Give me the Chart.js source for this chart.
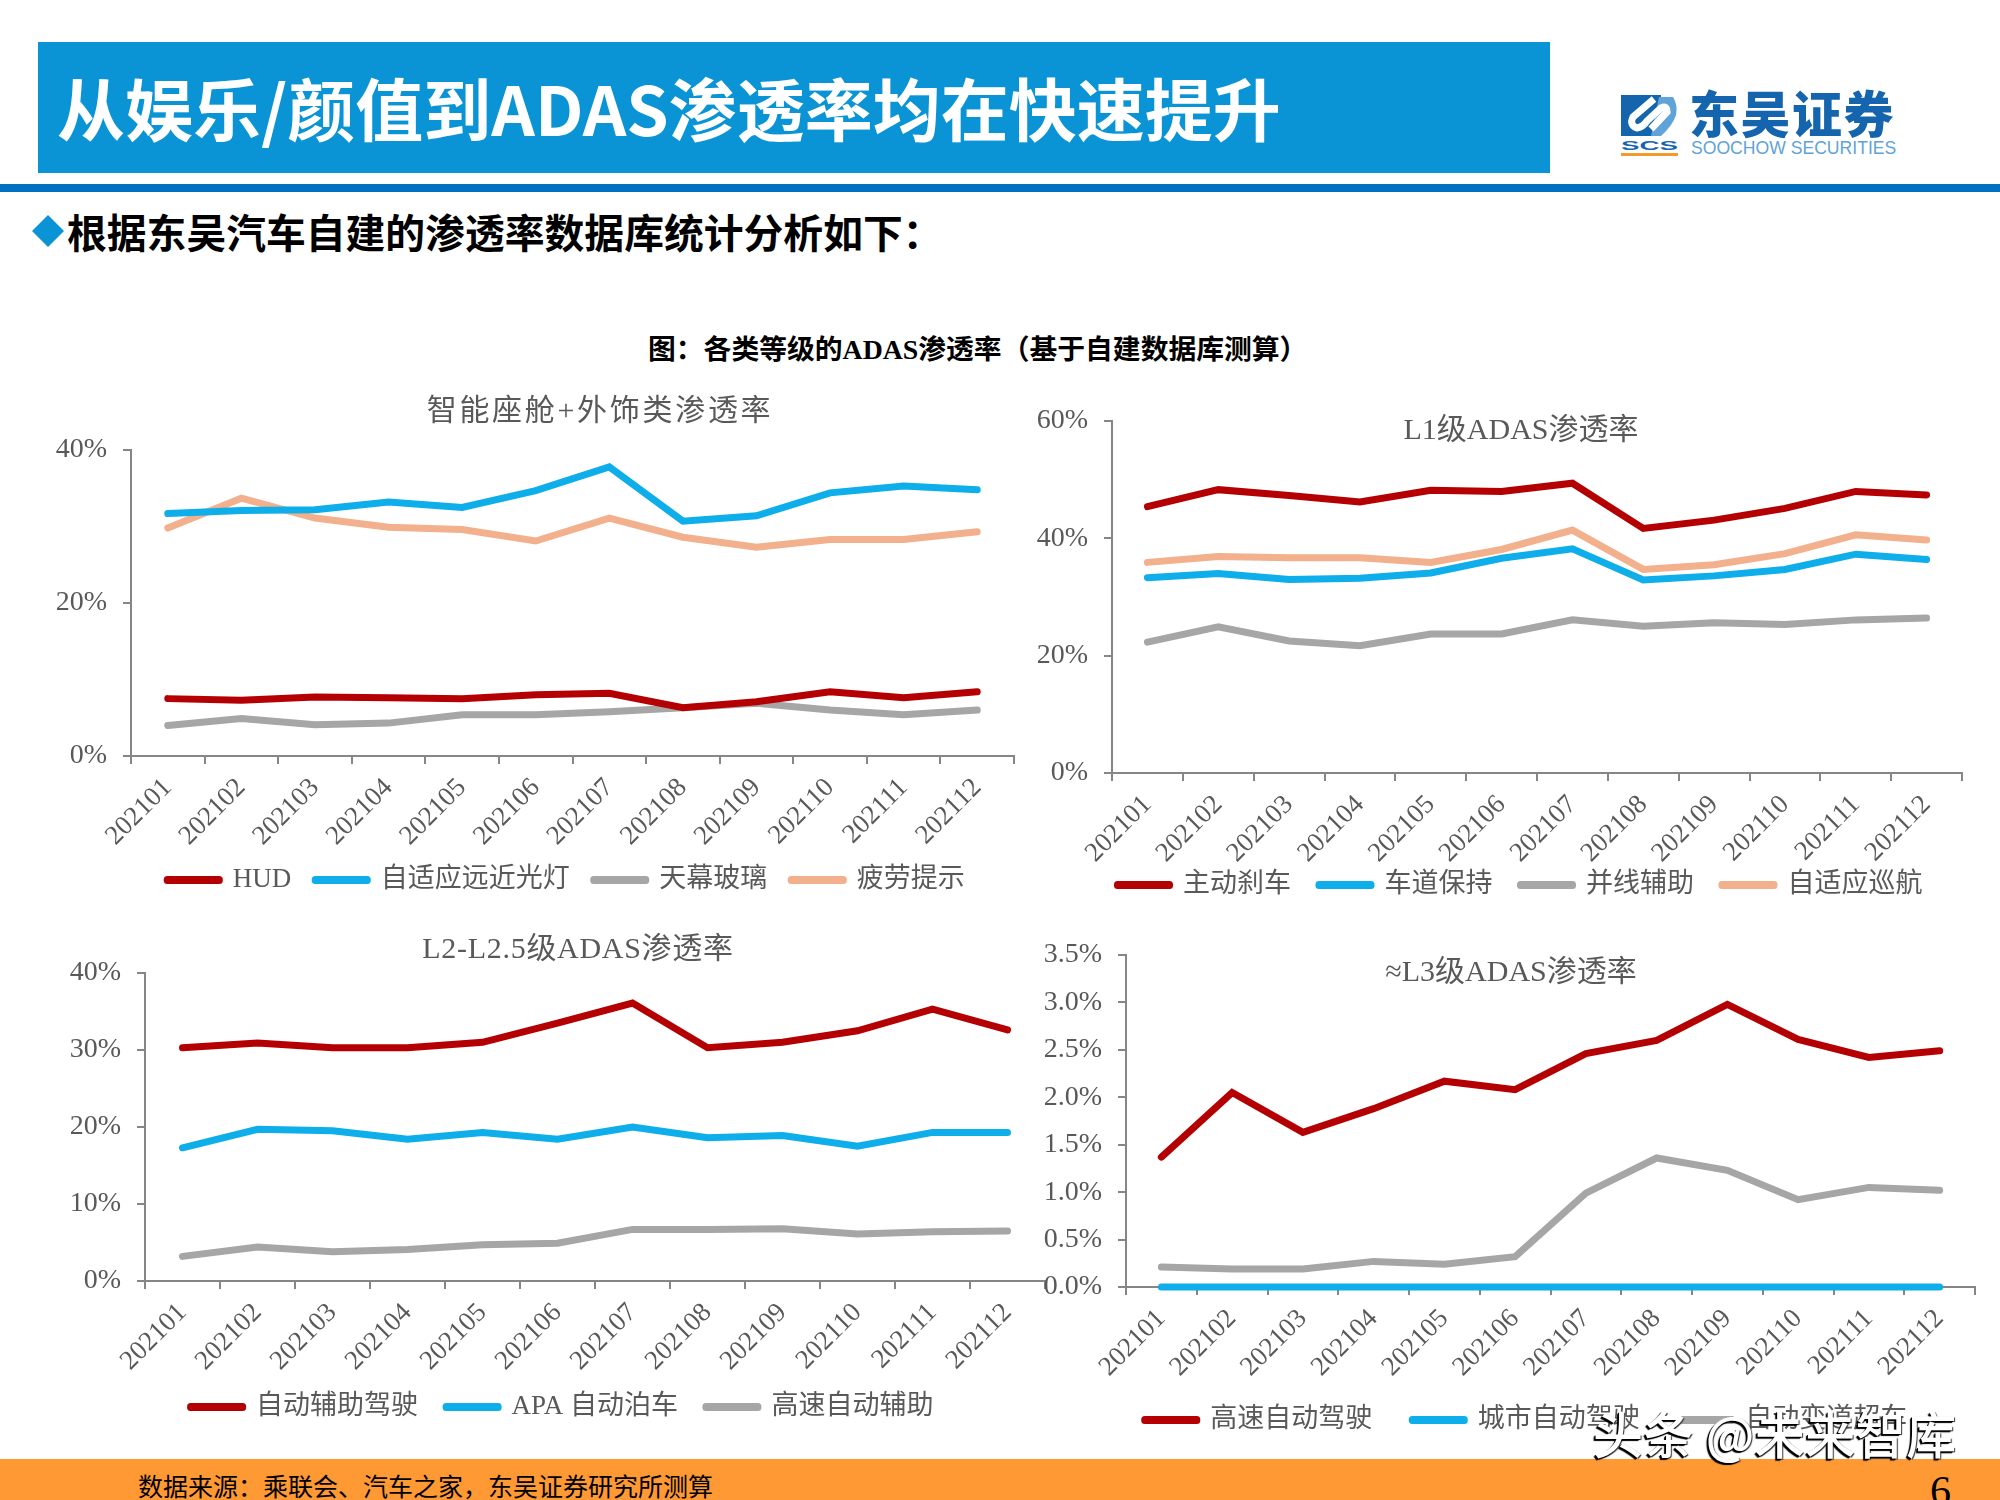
<!DOCTYPE html>
<html lang="zh-CN">
<head>
<meta charset="utf-8">
<title>从娱乐/颜值到ADAS渗透率均在快速提升</title>
<script src="https://cdn.jsdelivr.net/npm/chart.js@4"></script>
<style>
  html, body { margin: 0; padding: 0; background: #fff; }
  #page { position: relative; width: 2000px; height: 1500px; overflow: hidden; font-family: "Noto Sans CJK SC", sans-serif; }
  #page > * { position: absolute; }
  canvas { display: block; }
  #banner { left: 38px; top: 42px; width: 1512px; height: 131px; background: #0A94D6; }
  #bannerText { left: 57px; top: 59px; color: #fff; font-size: 68px; font-weight: 700; line-height: 96px; white-space: nowrap; }
  #rule { left: 0; top: 184px; width: 2000px; height: 8px; background: #0070C0; }
  #diamond { left: 32px; top: 215px; width: 32px; height: 32px; background: #0A94D6; clip-path: polygon(50% 0, 100% 50%, 50% 100%, 0 50%); }
  #lead { left: 67px; top: 203px; font-size: 39.8px; font-weight: 700; line-height: 56px; color: #000; white-space: nowrap; }
  #subhead { left: 648px; top: 330px; font-family: "Liberation Serif", "Noto Sans CJK SC", serif; font-size: 27.8px; font-weight: 700; line-height: 40px; color: #000; white-space: nowrap; }
  #logoCn { left: 1689px; top: 79px; font-size: 50px; font-weight: 900; letter-spacing: 1.5px; line-height: 64px; color: #1565AE; white-space: nowrap; }
  #logoEn { left: 1691px; top: 136px; font-family: "Liberation Sans", sans-serif; font-size: 17.6px; line-height: 24px; color: #5FA3D8; white-space: nowrap; }
  #footer { left: 0; top: 1459px; width: 2000px; height: 41px; background: #FF9933; }
  #source { left: 138px; top: 1466px; font-size: 25px; line-height: 38px; color: #000; white-space: nowrap; }
  #pageNo { left: 1930px; top: 1463px; font-family: "Liberation Serif", serif; font-size: 42px; line-height: 56px; color: #000; }
  #watermark { left: 1593px; top: 1396px; font-size: 50px; font-weight: 500; line-height: 72px; letter-spacing: 0.5px; color: #fff; white-space: nowrap;
    text-shadow: -2px 2px 1px #000, -1px 1px 0 #000, 1px 1px 1px #333; }
</style>
</head>
<body>
<div id="page">
  <div id="banner"></div>
  <div id="bannerText">从娱乐/颜值到ADAS渗透率均在快速提升</div>
  <svg style="left:1621px;top:95px" width="57" height="61" viewBox="0 0 57 61">
    <rect x="0" y="0" width="40" height="41" fill="#1565AE"/>
    <path d="M38 2 L52 2 Q57 10 55 20 Q52 30 40 41 L30 41 Z" fill="#5FA3D8"/>
    <path d="M33 4 L12 22 Q8 30 16 33 Q22 32 26 26 L40 13 Q46 10 46 17 L30 34" fill="none" stroke="#fff" stroke-width="7"/>
    <text x="0" y="54.5" font-family="Liberation Sans" font-weight="700" font-size="13" textLength="57" lengthAdjust="spacingAndGlyphs" fill="#1565AE">SCS</text>
    <rect x="0" y="58" width="57" height="3" fill="#F39A2B"/>
  </svg>
  <div id="logoCn">东吴证券</div>
  <div id="logoEn">SOOCHOW SECURITIES</div>
  <div id="rule"></div>
  <div id="diamond"></div>
  <div id="lead">根据东吴汽车自建的渗透率数据库统计分析如下：</div>
  <div id="subhead">图：各类等级的ADAS渗透率（基于自建数据库测算）</div>
  <canvas id="chartCabin"></canvas>
  <canvas id="chartL1"></canvas>
  <canvas id="chartL2"></canvas>
  <canvas id="chartL3"></canvas>
  <div id="footer"></div>
  <div id="source">数据来源：乘联会、汽车之家，东吴证券研究所测算</div>
  <div id="pageNo">6</div>
  <div id="watermark">头条 @未来智库</div>
</div>

<script>
'use strict';

const MONTHS = ['202101', '202102', '202103', '202104', '202105', '202106', '202107', '202108', '202109', '202110', '202111', '202112'];

// 智能座舱+外饰类
const CABIN_HUD = [7.5, 7.3, 7.7, 7.6, 7.5, 8.0, 8.2, 6.3, 7.1, 8.4, 7.6, 8.4];
const CABIN_BEAM = [31.7, 32.1, 32.2, 33.2, 32.5, 34.7, 37.8, 30.7, 31.4, 34.4, 35.3, 34.8];
const CABIN_ROOF = [4.0, 4.9, 4.1, 4.3, 5.4, 5.4, 5.8, 6.3, 6.9, 6.0, 5.4, 6.0];
const CABIN_FATIGUE = [29.8, 33.7, 31.1, 29.9, 29.6, 28.1, 31.1, 28.6, 27.3, 28.3, 28.3, 29.3];

// L1
const L1_BRAKE = [45.4, 48.3, 47.3, 46.2, 48.2, 48.0, 49.4, 41.7, 43.1, 45.1, 48.0, 47.4];
const L1_LANE = [33.3, 34.0, 33.0, 33.2, 34.1, 36.6, 38.2, 32.9, 33.6, 34.7, 37.3, 36.4];
const L1_MERGE = [22.3, 24.9, 22.5, 21.7, 23.7, 23.7, 26.1, 25.0, 25.6, 25.3, 26.1, 26.4];
const L1_ACC = [35.9, 36.9, 36.7, 36.7, 35.9, 38.1, 41.4, 34.7, 35.5, 37.4, 40.6, 39.7];

// L2-L2.5
const L2_ASSIST = [30.3, 30.9, 30.3, 30.3, 31.0, 33.5, 36.1, 30.3, 31.0, 32.5, 35.3, 32.6];
const L2_APA = [17.3, 19.7, 19.5, 18.4, 19.3, 18.4, 20.0, 18.6, 18.9, 17.5, 19.3, 19.3];
const L2_HIGHWAY = [3.2, 4.4, 3.8, 4.1, 4.7, 4.9, 6.7, 6.7, 6.8, 6.1, 6.4, 6.5];

// ≈L3
const L3_HIGHWAY = [1.37, 2.05, 1.63, 1.88, 2.17, 2.08, 2.46, 2.60, 2.98, 2.61, 2.42, 2.49];
const L3_CITY = [0, 0, 0, 0, 0, 0, 0, 0, 0, 0, 0, 0];
const L3_CHANGE = [0.21, 0.19, 0.19, 0.27, 0.24, 0.32, 0.99, 1.36, 1.23, 0.92, 1.05, 1.02];

const RED = '#B50003';
const BLUE = '#0DAEEA';
const GRAY = '#A6A6A6';
const PEACH = '#F2B08C';
const AXIS = '#868686';
const TEXT = '#595959';
const FONT = '"Liberation Serif", "Noto Sans CJK SC", serif';
const X_AXIS_HEIGHT = 100;
const LEGEND_FONT = 27;

// panel title at a fixed place, the L1 and L3 ones sit inside the plot
const panelTitle = {
    id: 'panelTitle',
    afterDraw(chart, args, opts) {
        const ctx = chart.ctx;
        ctx.save();
        ctx.font = `${opts.size}px ${FONT}`;
        ctx.letterSpacing = opts.spacing + 'px';
        ctx.fillStyle = TEXT;
        ctx.textAlign = 'center';
        ctx.textBaseline = 'middle';
        ctx.fillText(opts.text, opts.x, opts.y);
        ctx.restore();
    }
};

// moves the legend row after layout, so it does not have to be centred under the canvas
const legendPlace = {
    id: 'legendPlace',
    afterLayout(chart, args, opts) {
        const legend = chart.legend;
        const dx = opts.x - (legend.left + legend.right) / 2;
        const dy = opts.y - (legend.top + legend.options.labels.padding + LEGEND_FONT / 2);
        legend.left += dx;
        legend.right += dx;
        legend.top += dy;
        legend.bottom += dy;
    }
};

function line(label, data, color) {
    return {
        label: label,
        data: data,
        borderColor: color,
        backgroundColor: color,
        borderWidth: 7,
        borderCapStyle: 'round',
        borderJoinStyle: 'miter',
        pointRadius: 0,
        tension: 0,
        clip: false
    };
}

// legend keys are a thin box with the thick dataset stroke around it, round corners look like the line caps
function legendKeys(chart) {
    return Chart.defaults.plugins.legend.labels.generateLabels(chart).map((item) => ({ ...item, lineJoin: 'round' }));
}

// box: plot edges on the page, legendX/legendY: middle of the legend row
function drawPanel(id, box, datasets, yOpts, titleOpts) {
    const canvas = document.getElementById(id);
    const top = box.top - 80;
    const bottom = box.bottom + X_AXIS_HEIGHT + LEGEND_FONT + box.legendGap + 10;
    canvas.width = box.right + 6 - box.canvasLeft;
    canvas.height = bottom - top;
    canvas.style.left = box.canvasLeft + 'px';
    canvas.style.top = top + 'px';

    new Chart(canvas, {
        type: 'line',
        data: { labels: MONTHS, datasets: datasets },
        plugins: [panelTitle, legendPlace],
        options: {
            responsive: false,
            animation: false,
            devicePixelRatio: 1,
            layout: { padding: { left: 0, right: 6, top: 80, bottom: 0 } },
            plugins: {
                tooltip: { enabled: false },
                title: { display: false },
                panelTitle: { text: titleOpts.text, x: titleOpts.x - box.canvasLeft, y: titleOpts.y - top, size: 30, spacing: titleOpts.spacing },
                legendPlace: { x: box.legendX - box.canvasLeft, y: box.legendY - top },
                legend: {
                    position: 'bottom',
                    labels: {
                        boxWidth: 52,
                        boxHeight: 1,
                        generateLabels: legendKeys,
                        padding: box.legendGap,
                        color: TEXT,
                        font: { family: FONT, size: LEGEND_FONT }
                    }
                }
            },
            scales: {
                x: {
                    offset: true,
                    afterFit(scale) { scale.height = X_AXIS_HEIGHT; },
                    border: { color: AXIS, width: 2 },
                    grid: { offset: true, drawOnChartArea: false, color: AXIS, lineWidth: 2, tickLength: 8 },
                    ticks: { color: TEXT, font: { family: FONT, size: 27 }, minRotation: 45, maxRotation: 45, autoSkip: false, padding: 8 }
                },
                y: {
                    min: 0,
                    max: yOpts.max,
                    afterFit(scale) { scale.width = box.left - box.canvasLeft; },
                    border: { color: AXIS, width: 2 },
                    grid: { drawOnChartArea: false, color: AXIS, lineWidth: 2, tickLength: 8 },
                    ticks: {
                        stepSize: yOpts.step,
                        color: TEXT,
                        padding: 16,
                        font: { family: FONT, size: 28 },
                        callback: (v) => v.toFixed(yOpts.digits) + '%'
                    }
                }
            }
        }
    });
}

drawPanel('chartCabin',
    { left: 131, right: 1014, top: 450, bottom: 756, legendX: 566, legendY: 880, legendGap: 24, canvasLeft: 20 },
    [line('HUD', CABIN_HUD, RED), line('自适应远近光灯', CABIN_BEAM, BLUE), line('天幕玻璃', CABIN_ROOF, GRAY), line('疲劳提示', CABIN_FATIGUE, PEACH)],
    { max: 40, step: 20, digits: 0 },
    { text: '智能座舱+外饰类渗透率', x: 600, y: 412, spacing: 2.7 });

drawPanel('chartL1',
    { left: 1112, right: 1962, top: 421, bottom: 773, legendX: 1520, legendY: 885, legendGap: 28, canvasLeft: 1020 },
    [line('主动刹车', L1_BRAKE, RED), line('车道保持', L1_LANE, BLUE), line('并线辅助', L1_MERGE, GRAY), line('自适应巡航', L1_ACC, PEACH)],
    { max: 60, step: 20, digits: 0 },
    { text: 'L1级ADAS渗透率', x: 1521, y: 431, spacing: 0 });

drawPanel('chartL2',
    { left: 145, right: 1045, top: 973, bottom: 1281, legendX: 562, legendY: 1407, legendGap: 28, canvasLeft: 30 },
    [line('自动辅助驾驶', L2_ASSIST, RED), line('APA 自动泊车', L2_APA, BLUE), line('高速自动辅助', L2_HIGHWAY, GRAY)],
    { max: 40, step: 10, digits: 0 },
    { text: 'L2-L2.5级ADAS渗透率', x: 578, y: 950, spacing: 0.7 });

drawPanel('chartL3',
    { left: 1126, right: 1975, top: 955, bottom: 1287, legendX: 1526, legendY: 1420, legendGap: 40, canvasLeft: 1030 },
    [line('高速自动驾驶', L3_HIGHWAY, RED), line('城市自动驾驶', L3_CITY, BLUE), line('自动变道超车', L3_CHANGE, GRAY)],
    { max: 3.5, step: 0.5, digits: 1 },
    { text: '≈L3级ADAS渗透率', x: 1511, y: 973, spacing: 0 });
</script>
</body>
</html>
